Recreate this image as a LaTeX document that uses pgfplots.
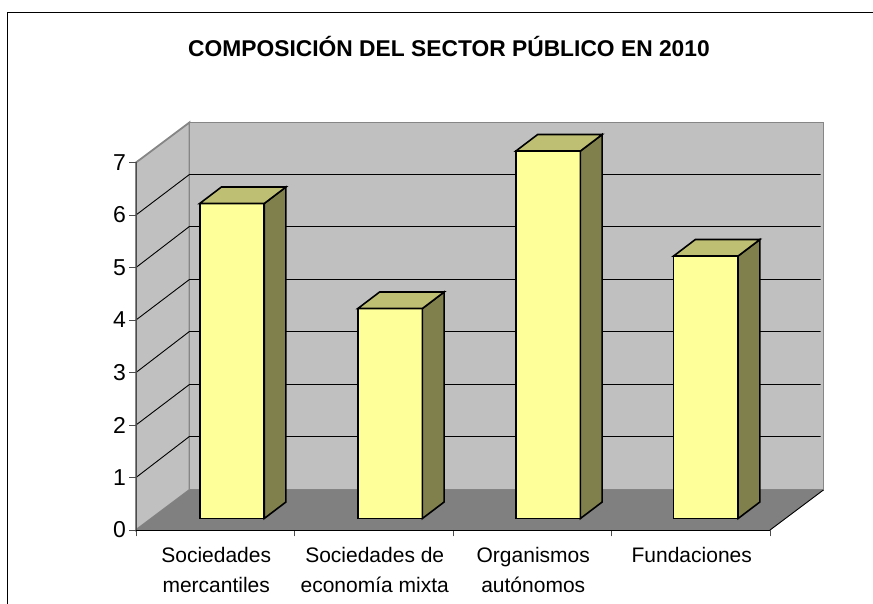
\documentclass[border=0pt]{standalone}
\usepackage{pgfplots}
\usepackage{fontspec}
\setmainfont{Liberation Sans}
\pgfplotsset{compat=1.18}
\definecolor{wall}{HTML}{C0C0C0}
\definecolor{wallline}{HTML}{868686}
\definecolor{floorc}{HTML}{808080}
\definecolor{barfront}{HTML}{FFFF99}
\definecolor{barside}{HTML}{80804C}
\definecolor{bartop}{HTML}{BFBF73}
\begin{document}
\begin{tikzpicture}
\useasboundingbox (-136pt,-74pt) rectangle (737pt,530pt);
\begin{axis}[
    x=158.5pt, y=52.5pt,
    xmin=0, xmax=4,
    ymin=0, ymax=7,
    clip=false,
    axis on top,
    axis x line*=bottom,
    axis y line*=left,
    axis line style={-,black,line width=0.9pt},
    y axis line style={color=black!70},
    tick align=outside,
    major tick length=6.5pt,
    tick style={black!70,line width=0.9pt},
    xtick={0,1,2,3,4},
    ytick={0,1,2,3,4,5,6,7},
    x tick label as interval,
    xticklabels={Sociedades\\mercantiles,Sociedades de\\economía mixta,Organismos\\autónomos,Fundaciones},
    x tick label style={align=center,font=\fontsize{21}{30}\selectfont,yshift=-7pt,xshift=1pt},
    y tick label style={font=\fontsize{23}{26}\selectfont},
    /pgf/number format/assume math mode=true,
    title={COMPOSICIÓN DEL SECTOR PÚBLICO EN 2010},
    title style={at={(0.4937,1.298)},anchor=center,font=\fontsize{22.8}{26}\selectfont\bfseries},
]
% outer frame of the chart area
\addplot[black,line width=1pt] coordinates {(-0.811,-1.467)(-0.811,9.857)(4.65,9.857)};

% walls and floor
\addplot[fill=wall,draw=wallline,line width=1.8pt] coordinates {(0,0)(0.337,0.762)(0.337,7.762)(0,7)} -- cycle;
\addplot[fill=wall,draw=wallline,line width=1.8pt] coordinates {(0.337,0.762)(4.337,0.762)(4.337,7.762)(0.337,7.762)} -- cycle;
\addplot[fill=floorc,draw=floorc] coordinates {(0,0)(4,0)(4.337,0.762)(0.337,0.762)} -- cycle;
\addplot[black,line width=0.9pt] coordinates {(4,0)(4.337,0.762)};

% gridlines, side wall then back wall
\addplot[black,line width=0.9pt] coordinates {(0,1)(0.337,1.781)(4.32,1.781)};
\addplot[black,line width=0.9pt] coordinates {(0,2)(0.337,2.771)(4.32,2.771)};
\addplot[black,line width=0.9pt] coordinates {(0,3)(0.337,3.781)(4.32,3.781)};
\addplot[black,line width=0.9pt] coordinates {(0,4)(0.337,4.771)(4.32,4.771)};
\addplot[black,line width=0.9pt] coordinates {(0,5)(0.337,5.781)(4.32,5.781)};
\addplot[black,line width=0.9pt] coordinates {(0,6)(0.337,6.771)(4.32,6.771)};

% Sociedades mercantiles = 6
\addplot[fill=barfront,draw=black,line width=1.6pt] coordinates {(0.402,0.219)(0.809,0.219)(0.809,6.219)(0.402,6.219)} -- cycle;
\addplot[fill=barside,draw=black,line width=1.6pt] coordinates {(0.809,0.219)(0.946,0.533)(0.946,6.533)(0.809,6.219)} -- cycle;
\addplot[fill=bartop,draw=black,line width=1.6pt] coordinates {(0.402,6.219)(0.809,6.219)(0.946,6.533)(0.539,6.533)} -- cycle;

% Sociedades de economia mixta = 4
\addplot[fill=barfront,draw=black,line width=1.6pt] coordinates {(1.400,0.219)(1.807,0.219)(1.807,4.219)(1.400,4.219)} -- cycle;
\addplot[fill=barside,draw=black,line width=1.6pt] coordinates {(1.807,0.219)(1.944,0.533)(1.944,4.533)(1.807,4.219)} -- cycle;
\addplot[fill=bartop,draw=black,line width=1.6pt] coordinates {(1.400,4.219)(1.807,4.219)(1.944,4.533)(1.537,4.533)} -- cycle;

% Organismos autonomos = 7
\addplot[fill=barfront,draw=black,line width=1.6pt] coordinates {(2.397,0.219)(2.804,0.219)(2.804,7.219)(2.397,7.219)} -- cycle;
\addplot[fill=barside,draw=black,line width=1.6pt] coordinates {(2.804,0.219)(2.941,0.533)(2.941,7.533)(2.804,7.219)} -- cycle;
\addplot[fill=bartop,draw=black,line width=1.6pt] coordinates {(2.397,7.219)(2.804,7.219)(2.941,7.533)(2.534,7.533)} -- cycle;

% Fundaciones = 5
\addplot[fill=barfront,draw=black,line width=1.6pt] coordinates {(3.392,0.219)(3.799,0.219)(3.799,5.219)(3.392,5.219)} -- cycle;
\addplot[fill=barside,draw=black,line width=1.6pt] coordinates {(3.799,0.219)(3.936,0.533)(3.936,5.533)(3.799,5.219)} -- cycle;
\addplot[fill=bartop,draw=black,line width=1.6pt] coordinates {(3.392,5.219)(3.799,5.219)(3.936,5.533)(3.529,5.533)} -- cycle;
\end{axis}
\end{tikzpicture}
\end{document}
